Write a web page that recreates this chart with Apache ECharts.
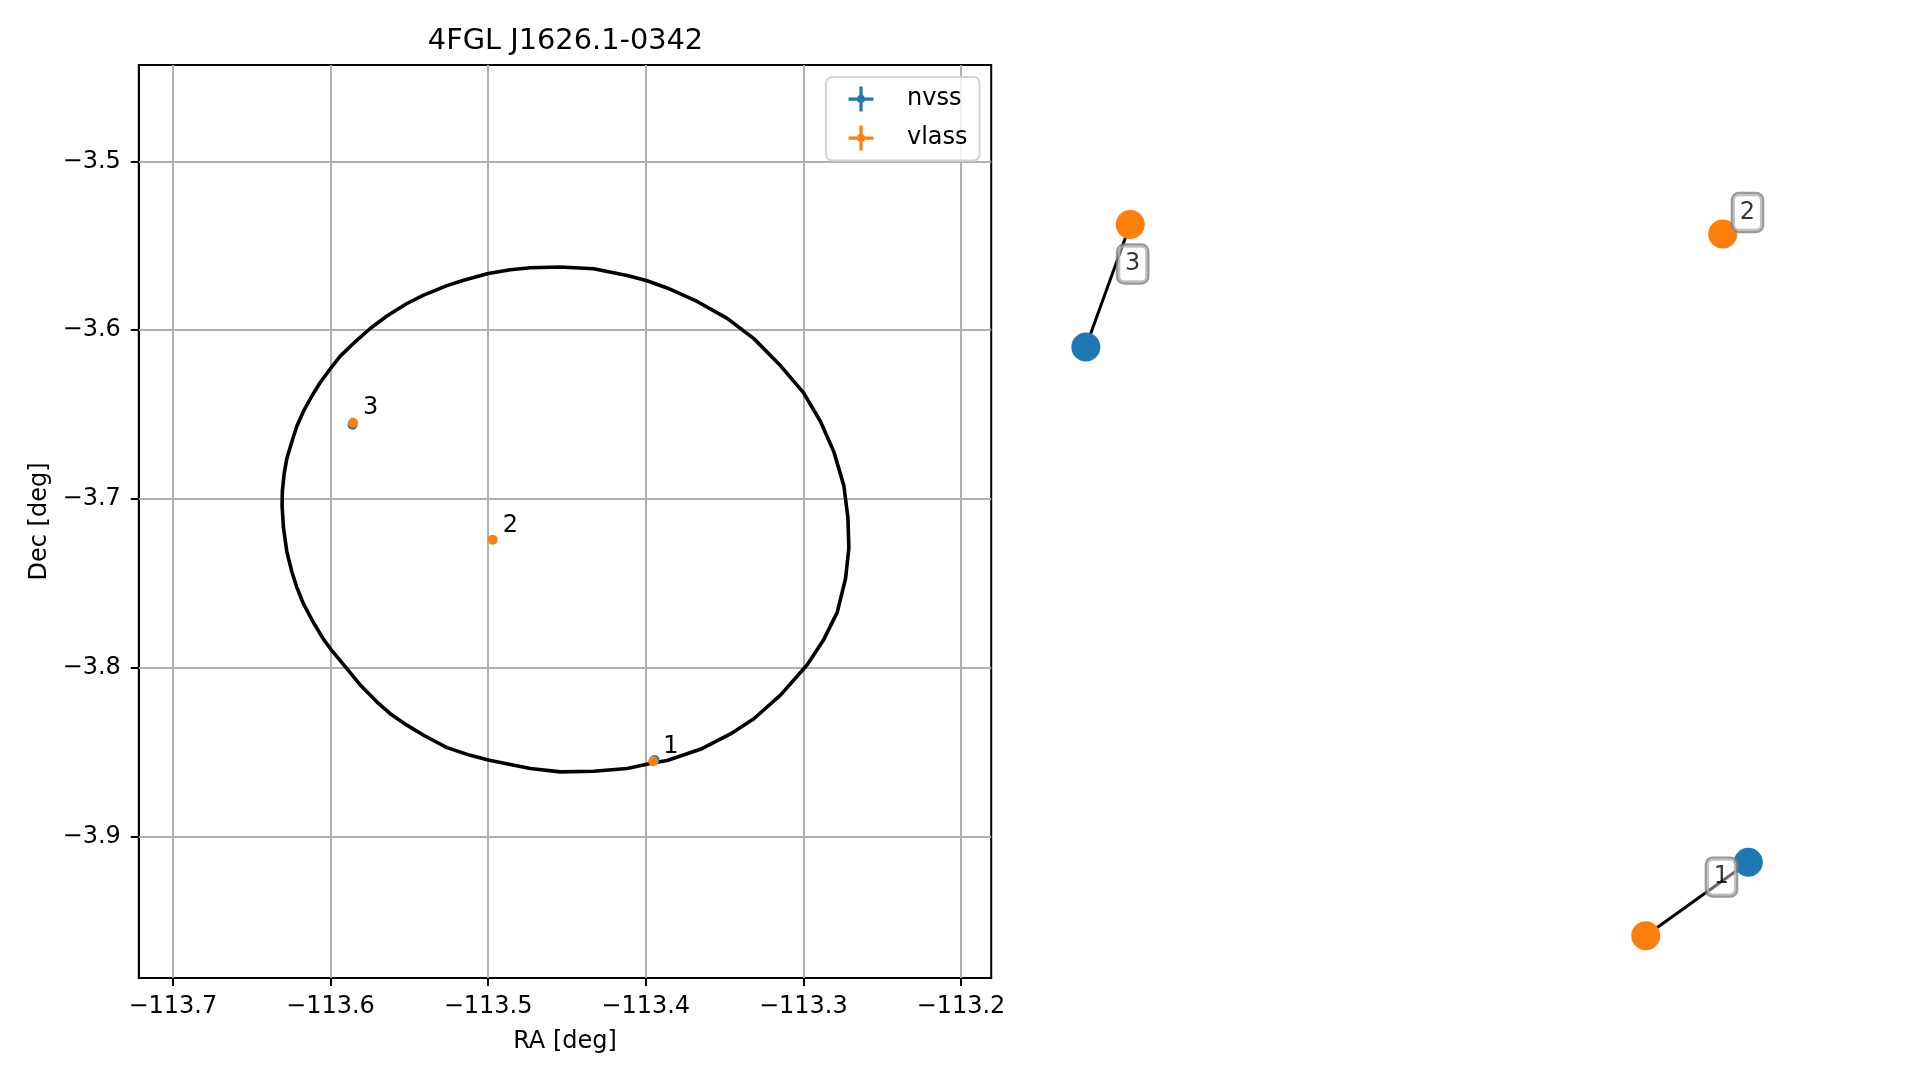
<!DOCTYPE html>
<html>
<head>
<meta charset="utf-8">
<script src="https://cdn.jsdelivr.net/npm/echarts@6/dist/echarts.min.js"></script>
<style>
html,body{margin:0;padding:0;background:#ffffff;}
#chart{width:1919px;height:1080px;}
</style>
</head>
<body>
<div id="chart"></div>
<script>
// ---------- text ----------
const titleText = '4FGL J1626.1-0342';
const xAxisName = 'RA [deg]';
const yAxisName = 'Dec [deg]';
const legendNames = ['nvss', 'vlass'];

// ---------- axes ----------
const raRange = [-113.7216, -113.1808];
const decRange = [-3.9838, -3.4429];
const xTicks = [-113.7, -113.6, -113.5, -113.4, -113.3, -113.2];
const xTickLabels = ['\u2212113.7', '\u2212113.6', '\u2212113.5', '\u2212113.4', '\u2212113.3', '\u2212113.2'];
const yTicks = [-3.9, -3.8, -3.7, -3.6, -3.5];
const yTickLabels = ['\u22123.9', '\u22123.8', '\u22123.7', '\u22123.6', '\u22123.5'];

// ---------- error ellipse (vertices) ----------
const ellipseRA = [
  -113.4542, -113.4330, -113.4118, -113.3996, -113.3864, -113.3674, -113.3483, -113.3314,
  -113.3155, -113.2999, -113.2891, -113.2806, -113.2743, -113.2717, -113.2711, -113.2732,
  -113.2785, -113.2870, -113.2975, -113.3145, -113.3314, -113.3462, -113.3653, -113.3864,
  -113.3949, -113.4118, -113.4330, -113.4542, -113.4732, -113.4859, -113.4999, -113.5113,
  -113.5261, -113.5409, -113.5515, -113.5621, -113.5706, -113.5811, -113.5917, -113.5996,
  -113.6044, -113.6108, -113.6171, -113.6214, -113.6245, -113.6277, -113.6298, -113.6307,
  -113.6305, -113.6294, -113.6277, -113.6245, -113.6214, -113.6171, -113.6118, -113.6065,
  -113.6002, -113.5938, -113.5833, -113.5748, -113.5642, -113.5515, -113.5409, -113.5261,
  -113.5155, -113.4999, -113.4859, -113.4732, -113.4542
];
const ellipseDec = [
  -3.5626, -3.5636, -3.5676, -3.5706, -3.5750, -3.5830, -3.5930, -3.6050,
  -3.6200, -3.6370, -3.6541, -3.6721, -3.6921, -3.7111, -3.7291, -3.7471,
  -3.7672, -3.7832, -3.7982, -3.8162, -3.8302, -3.8392, -3.8483, -3.8549,
  -3.8563, -3.8597, -3.8613, -3.8617, -3.8597, -3.8573, -3.8547, -3.8519,
  -3.8473, -3.8400, -3.8340, -3.8272, -3.8202, -3.8102, -3.7982, -3.7892,
  -3.7832, -3.7732, -3.7622, -3.7522, -3.7431, -3.7311, -3.7171, -3.7041,
  -3.6951, -3.6851, -3.6761, -3.6661, -3.6571, -3.6480, -3.6390, -3.6310,
  -3.6230, -3.6154, -3.6060, -3.5990, -3.5916, -3.5842, -3.5792, -3.5736,
  -3.5704, -3.5664, -3.5642, -3.5630, -3.5626
];

// ---------- radio sources (sky positions) ----------
const nvssIds = ['1', '3'];
const nvssRA = [-113.3944, -113.5860];
const nvssDec = [-3.8546, -3.6560];
const vlassIds = ['1', '2', '3'];
const vlassRA = [-113.3952, -113.4971, -113.5857];
const vlassDec = [-3.8554, -3.7242, -3.6548];

// ---------- right-hand schematic panel (panel units 0..1) ----------
const panelNvssX = [0.9320, 0.0603];
const panelNvssY = [0.1267, 0.6912];
const panelVlassX = [0.7970, 0.8983, 0.1187];
const panelVlassY = [0.0463, 0.8149, 0.8254];
const panelLabelIds = ['1', '2', '3'];
const panelLabelX = [0.8967, 0.9309, 0.1220];
const panelLabelY = [0.1105, 0.8384, 0.7820];

// ---------- styling ----------
const FONT = 'DejaVu Sans';
const BLUE = '#1f77b4';
const ORANGE = '#ff7f0e';
const plusIcon = 'path://M0,43.5L100,43.5L100,56.5L0,56.5Z M43.5,0L56.5,0L56.5,100L43.5,100Z M50,34A16,16 0 1 1 49.99,34Z';

function tickLabel(ticks, labels) {
  return function (v) {
    const i = ticks.findIndex(t => Math.abs(t - v) < 1e-7);
    return i >= 0 ? labels[i] : '';
  };
}

const gridLines = xTicks.map(v => ({ xAxis: v })).concat(yTicks.map(v => ({ yAxis: v })));

const ellipseData = ellipseRA.map((x, i) => [x, ellipseDec[i]]);
const nvssData = nvssRA.map((x, i) => ({ value: [x, nvssDec[i]], name: nvssIds[i] }));
const vlassData = vlassRA.map((x, i) => ({ value: [x, vlassDec[i]], name: vlassIds[i] }));

const panelNvssData = panelNvssX.map((x, i) => ({ value: [x, panelNvssY[i]], name: nvssIds[i] }));
const panelVlassData = panelVlassX.map((x, i) => ({ value: [x, panelVlassY[i]], name: vlassIds[i] }));
const panelLabelData = panelLabelX.map((x, i) => ({ value: [x, panelLabelY[i]], name: panelLabelIds[i] }));

const linkSeries = nvssIds.filter(id => vlassIds.indexOf(id) >= 0).map(id => {
  const a = nvssIds.indexOf(id), b = vlassIds.indexOf(id);
  return {
    type: 'line', name: 'link ' + id, xAxisIndex: 1, yAxisIndex: 1, z: 2,
    data: [[panelNvssX[a], panelNvssY[a]], [panelVlassX[b], panelVlassY[b]]],
    showSymbol: false, symbol: 'none', silent: true, clip: false,
    lineStyle: { color: '#000000', width: 3 }
  };
});

const chart = echarts.init(document.getElementById('chart'), null, { renderer: 'canvas' });

const axisLabelStyle = { color: '#000000', fontSize: 24, fontFamily: FONT };

chart.setOption({
  animation: false,
  backgroundColor: '#ffffff',
  textStyle: { fontFamily: FONT },
  title: {
    text: titleText,
    left: 565.5, top: 27.5, textAlign: 'center', padding: 0,
    textStyle: { fontSize: 28.8, fontWeight: 'normal', color: '#000000', fontFamily: FONT }
  },
  legend: {
    data: legendNames.map(n => ({ name: n, icon: plusIcon })),
    orient: 'vertical',
    left: 826, top: 77,
    padding: [9.5, 12, 10, 22.5],
    itemGap: 14, itemWidth: 25, itemHeight: 25,
    backgroundColor: 'rgba(255,255,255,0.8)',
    borderColor: '#d3d3d3', borderWidth: 2, borderRadius: 6,
    selectedMode: false,
    itemStyle: { opacity: 1 },
    textStyle: { fontSize: 24, color: '#000000', fontFamily: FONT, padding: [0, 0, 0, 28.5] }
  },
  grid: [
    { left: 138.8, top: 65, width: 852.4, height: 913, containLabel: false, outerBoundsMode: 'none',
      show: true, borderColor: '#000000', borderWidth: 2, backgroundColor: 'transparent' },
    { left: 1040, top: 65, width: 760, height: 913, containLabel: false, outerBoundsMode: 'none', show: false }
  ],
  xAxis: [
    {
      type: 'value', gridIndex: 0, min: raRange[0], max: raRange[1],
      name: xAxisName, nameLocation: 'middle', nameGap: 51.5,
      nameTextStyle: { fontSize: 24, color: '#000000', fontFamily: FONT },
      axisLine: { show: true, onZero: false, lineStyle: { color: '#000000', width: 2 } },
      axisTick: { show: true, inside: false, length: 8, customValues: xTicks, lineStyle: { color: '#000000', width: 2 } },
      axisLabel: Object.assign({ margin: 16.5, customValues: xTicks, formatter: tickLabel(xTicks, xTickLabels) }, axisLabelStyle),
      splitLine: { show: false }
    },
    { type: 'value', gridIndex: 1, min: 0, max: 1, show: false }
  ],
  yAxis: [
    {
      type: 'value', gridIndex: 0, min: decRange[0], max: decRange[1],
      name: yAxisName, nameLocation: 'middle', nameGap: 87.5, nameRotate: 90,
      nameTextStyle: { fontSize: 24, color: '#000000', fontFamily: FONT },
      axisLine: { show: true, onZero: false, lineStyle: { color: '#000000', width: 2 } },
      axisTick: { show: true, inside: false, length: 8, customValues: yTicks, lineStyle: { color: '#000000', width: 2 } },
      axisLabel: Object.assign({ margin: 18, customValues: yTicks, formatter: tickLabel(yTicks, yTickLabels) }, axisLabelStyle),
      splitLine: { show: false }
    },
    { type: 'value', gridIndex: 1, min: 0, max: 1, show: false }
  ],
  series: [
    {
      type: 'line', name: 'ellipse', xAxisIndex: 0, yAxisIndex: 0, z: 2,
      data: ellipseData, showSymbol: false, symbol: 'none', silent: true,
      lineStyle: { color: '#000000', width: 3.6 },
      markLine: {
        z: 1, silent: true, symbol: ['none', 'none'], animation: false,
        label: { show: false },
        lineStyle: { color: '#b0b0b0', width: 2, type: 'solid' },
        emphasis: { disabled: true },
        data: gridLines
      }
    },
    {
      type: 'scatter', name: 'nvss', xAxisIndex: 0, yAxisIndex: 0, z: 3,
      data: nvssData, symbol: 'circle', symbolSize: 10, silent: true,
      itemStyle: { color: BLUE, opacity: 1 }
    },
    {
      type: 'scatter', name: 'vlass', xAxisIndex: 0, yAxisIndex: 0, z: 4,
      data: vlassData, symbol: 'circle', symbolSize: 10, silent: true,
      itemStyle: { color: ORANGE, opacity: 1 },
      label: {
        show: true, position: 'right', distance: 5, offset: [0, -14.5],
        formatter: p => p.name, fontSize: 24, color: '#000000', fontFamily: FONT
      }
    }
  ].concat(linkSeries).concat([
    {
      type: 'scatter', name: 'nvss', xAxisIndex: 1, yAxisIndex: 1, z: 3, clip: false,
      data: panelNvssData, symbol: 'circle', symbolSize: 29, silent: true,
      itemStyle: { color: BLUE, opacity: 1 }
    },
    {
      type: 'scatter', name: 'vlass', xAxisIndex: 1, yAxisIndex: 1, z: 3, clip: false,
      data: panelVlassData, symbol: 'circle', symbolSize: 29, silent: true,
      itemStyle: { color: ORANGE, opacity: 1 }
    },
    {
      type: 'scatter', name: 'panel labels', xAxisIndex: 1, yAxisIndex: 1, z: 5, clip: false,
      data: panelLabelData, symbol: 'circle', symbolSize: 1, silent: true,
      itemStyle: { color: 'rgba(0,0,0,0)' },
      label: {
        show: true, position: 'inside', formatter: p => p.name,
        fontSize: 24, color: '#000000', fontFamily: FONT, lineHeight: 25,
        backgroundColor: 'rgba(255,255,255,0.5)', borderColor: '#7f7f7f',
        borderWidth: 2.2, borderRadius: 6, padding: [6, 7, 6, 7]
      }
    }
  ])
});
</script>
</body>
</html>
